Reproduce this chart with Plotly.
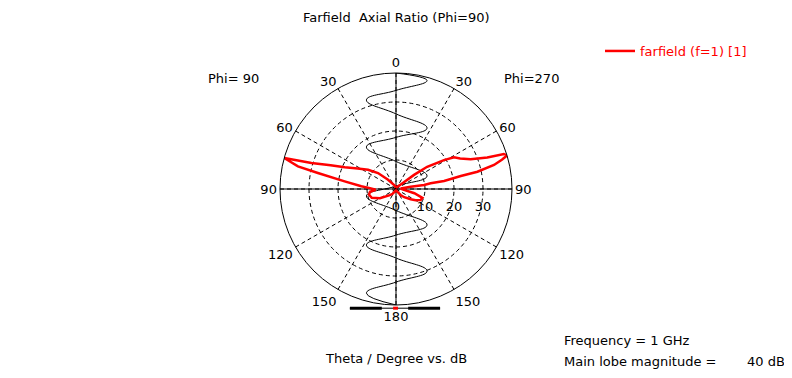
import numpy as np
import plotly.graph_objects as go

# The page body has an 8px margin, so the figure is 784x370 and sits at (8, 8)
PAGE_OFF = 8
W, H = 792 - PAGE_OFF, 378 - PAGE_OFF
CX, CY, R = 396 - PAGE_OFF, 189 - PAGE_OFF, 116   # polar frame (figure pixels)
RMAX = 40                                          # dB at outer circle
FONT = "DejaVu Sans"

# ---- data -------------------------------------------------------------
# Axial ratio (dB) vs. angle, angle measured clockwise from top (degrees)
red_theta = [0, 20, 35, 45, 52, 54.5, 59, 61.3, 64.5, 68.3, 70.9, 72, 73.2,
             74.5, 76.2, 78, 78.6, 80.5, 80.7, 81.9, 81.1, 85, 95, 103, 108.5,
             114, 120, 125, 135, 142, 160, 180, 200, 215, 225, 240, 250, 258,
             264, 268, 272, 274.5, 278.5, 281.6, 283, 285.5, 287.1, 290, 292.9,
             298, 304.6, 311.6, 319.3, 335, 360]
red_r = [0.5, 0.6, 1.0, 2.0, 7.9, 13.2, 19.3, 22.8, 24.5, 27.7, 33.3, 39.1, 40.0,
         38.0, 34.8, 28.7, 22.8, 16.8, 12.1, 9.8, 5.1, 1.6, 2.5, 6.5, 9.6,
         9.3, 7.8, 6.2, 4.0, 2.6, 0.8, 0.5, 0.8, 2.0, 3.0, 6.4, 8.9, 9.5,
         9.0, 7.0, 9.0, 12.0, 17.9, 27.5, 34.7, 40.0, 30.5, 24.0, 19.2,
         15.0, 11.7, 8.3, 4.2, 1.5, 0.5]

# thin black curve, read as horizontal / vertical components in dB
black_x_db = [0, 10.7, 0, -10.2, 0, 10.7, 0, -10.2, 0, 10.7, 0, -10.2, 0,
              10.7, 0, -10.2, 0, 10.7, 0, -10.2, 0]
black_y_db = [40, 37.4, 34.0, 30.7, 25.9, 21.0, 17.8, 14.5, 9.5, 4.5, 1.0,
              -2.4, -7.4, -12.4, -15.9, -19.3, -23.8, -28.3, -32.1, -35.9, -40]

# beam-width markers at the bottom (dB units, horizontal)
marker_left = [-15.9, -4.9]
marker_right = [4.2, 15.2]
marker_level = -41.1
mainlobe_mark = [-1.0, 0.7]

angle_ticks = list(range(0, 360, 30))
angle_labels = ["0", "30", "60", "90", "120", "150", "180",
                "150", "120", "90", "60", "30"]
radial_ticks = [0, 10, 20, 30]

# ---- helpers ----------------------------------------------------------
def px(x_db, y_db):
    """dB-space point -> paper coordinates"""
    X = CX + x_db * R / RMAX
    Y = CY - y_db * R / RMAX
    return X / W, 1 - Y / H

bx = np.array(black_x_db, float)
by = np.array(black_y_db, float)
black_r = np.hypot(bx, by)
black_theta = np.degrees(np.arctan2(bx, by)) % 360

fig = go.Figure()

# solid main axes (0-180 and 90-270 diameters)
fig.add_trace(go.Scatterpolar(r=[RMAX, 0, RMAX], theta=[0, 0, 180], mode="lines",
                              line=dict(color="black", width=1),
                              showlegend=False, hoverinfo="skip"))
fig.add_trace(go.Scatterpolar(r=[RMAX, 0, RMAX], theta=[90, 90, 270], mode="lines",
                              line=dict(color="black", width=1),
                              showlegend=False, hoverinfo="skip"))

fig.add_trace(go.Scatterpolar(r=black_r, theta=black_theta, mode="lines",
                              line=dict(color="black", width=1, shape="spline",
                                        smoothing=1.3),
                              showlegend=False, hoverinfo="skip"))

fig.add_trace(go.Scatterpolar(r=red_r, theta=red_theta, mode="lines",
                              name="farfield (f=1) [1]",
                              line=dict(color="#ff0000", width=2.5)))

x0p, y0p = px(-RMAX, -RMAX)
x1p, y1p = px(RMAX, RMAX)

fig.update_layout(
    width=W, height=H,
    margin=dict(l=0, r=0, t=0, b=0),
    paper_bgcolor="white",
    font=dict(family=FONT, size=13, color="black"),
    polar=dict(
        domain=dict(x=[x0p, x1p], y=[y0p, y1p]),
        bgcolor="rgba(0,0,0,0)",
        angularaxis=dict(
            rotation=90, direction="clockwise",
            tickmode="array", tickvals=angle_ticks, ticktext=angle_labels,
            showline=True, linecolor="black", linewidth=1,
            showgrid=True, gridcolor="black", gridwidth=1, griddash="4px,3px",
            ticks="", ticklen=0,
            tickfont=dict(family=FONT, size=13, color="black"),
        ),
        radialaxis=dict(
            range=[0, RMAX], angle=0, side="clockwise",
            tickmode="array", tickvals=radial_ticks,
            showline=False,
            showgrid=True, gridcolor="black", gridwidth=1, griddash="4px,3px",
            ticks="outside", ticklen=6, tickcolor="rgba(0,0,0,0)",
            tickfont=dict(family=FONT, size=13, color="black"),
        ),
    ),
    showlegend=True,
    legend=dict(x=(600 - PAGE_OFF) / W, y=1 - (36 - PAGE_OFF) / H,
                xanchor="left", yanchor="top",
                bgcolor="rgba(0,0,0,0)", borderwidth=0,
                font=dict(family=FONT, size=13, color="#ff0000")),
)

# bottom markers
shapes = []
lx0, ly = px(marker_left[0], marker_level)
rx1, _ = px(marker_right[1], marker_level)
shapes.append(dict(type="line", xref="paper", yref="paper", x0=lx0, x1=rx1,
                   y0=ly, y1=ly, line=dict(color="black", width=1)))
for seg in (marker_left, marker_right):
    a, _ = px(seg[0], marker_level)
    b, _ = px(seg[1], marker_level)
    shapes.append(dict(type="line", xref="paper", yref="paper", x0=a, x1=b,
                       y0=ly, y1=ly, line=dict(color="black", width=3)))
a, _ = px(mainlobe_mark[0], marker_level)
b, _ = px(mainlobe_mark[1], marker_level)
shapes.append(dict(type="line", xref="paper", yref="paper", x0=a, x1=b,
                   y0=ly, y1=ly, line=dict(color="#ff0000", width=3)))
fig.update_layout(shapes=shapes)

def ann(text, x, y, xanchor="center", color="black"):
    """x, y given in window pixels"""
    fig.add_annotation(text=text, x=(x - PAGE_OFF) / W, y=1 - (y - PAGE_OFF) / H,
                       xref="paper", yref="paper",
                       xanchor=xanchor, yanchor="middle", showarrow=False,
                       font=dict(family=FONT, size=13, color=color))

ann("Farfield\u00a0 Axial Ratio (Phi=90)", 396, 18)
ann("Phi= 90", 233, 78)
ann("Phi=270", 531, 78)
ann("Theta / Degree vs. dB", 396, 358)
ann("Frequency = 1 GHz", 562, 340, "left")
ann("Main lobe magnitude =", 562, 361, "left")
ann("40 dB", 787, 361, "right")

fig.write_html("out.html")
